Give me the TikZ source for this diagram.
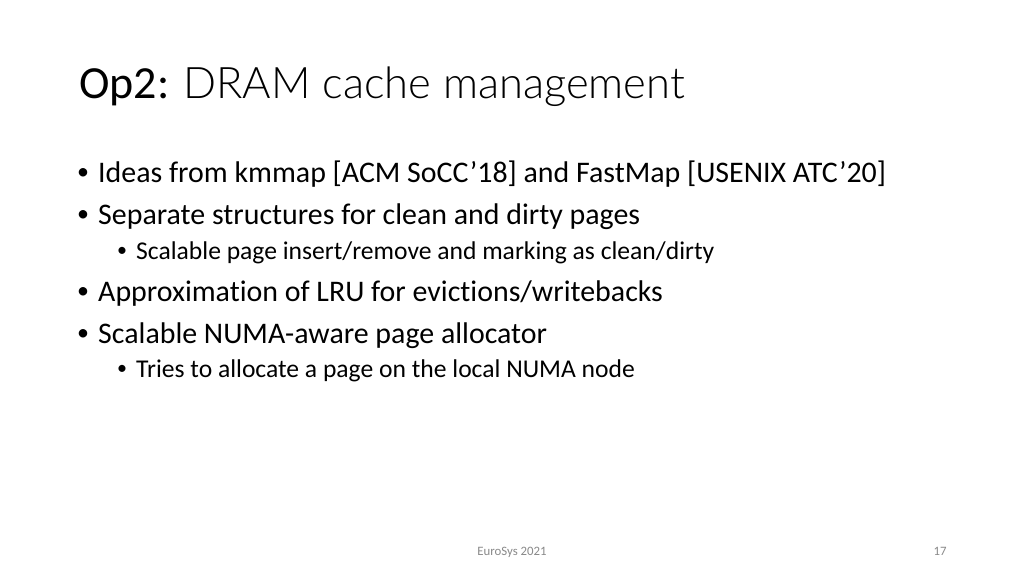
\documentclass[tikz,border=0pt]{standalone}
\usepackage{fontspec}
\setmainfont{Carlito}[Ligatures=NoCommon]
\newfontfamily\lightfont{Lato Light}[Ligatures=NoCommon]
\definecolor{footgray}{HTML}{898989}
\begin{document}
\begin{tikzpicture}[x=1pt,y=-1pt,
  title/.style = {anchor=base west, inner sep=0pt, font=\fontsize{46}{56}\selectfont},
  lvl1/.style = {anchor=base west, inner sep=0pt, font=\fontsize{29.9}{36}\selectfont},
  lvl2/.style = {anchor=base west, inner sep=0pt, font=\fontsize{25.6}{30}\selectfont},
  dot1/.style = {anchor=base, inner sep=0pt, font=\fontsize{24}{28}\selectfont},
  dot2/.style = {anchor=base, inner sep=0pt, font=\fontsize{20}{24}\selectfont},
  foot/.style = {anchor=base, inner sep=0pt, text=footgray, font=\fontsize{12.8}{15}\selectfont}]
  \useasboundingbox[fill=white] (0,0) rectangle (1024,576);

  \node[title] (t) at (79,98) {Op2: {\lightfont\fontsize{43.5}{56}\selectfont DRAM cache management}};

  \node[dot1] (d1) at (83,179) {•};
  \node[lvl1] (1) at (98,182) {Ideas from kmmap [ACM SoCC’18] and FastMap [USENIX ATC’20]};
  \node[dot1] (d2) at (83,221) {•};
  \node[lvl1] (2) at (98,224) {Separate structures for clean and dirty pages};
  \node[dot2] (d3) at (122,256) {•};
  \node[lvl2] (3) at (136,259) {Scalable page insert/remove and marking as clean/dirty};
  \node[dot1] (d4) at (83,298) {•};
  \node[lvl1] (4) at (98,301) {Approximation of LRU for evictions/writebacks};
  \node[dot1] (d5) at (83,340) {•};
  \node[lvl1] (5) at (98,343) {Scalable NUMA-aware page allocator};
  \node[dot2] (d6) at (122,374) {•};
  \node[lvl2] (6) at (136,377) {Tries to allocate a page on the local NUMA node};

  \node[foot] (f) at (512,555) {EuroSys 2021};
  \node[foot] (p) at (940,555) {17};
\end{tikzpicture}
\end{document}
